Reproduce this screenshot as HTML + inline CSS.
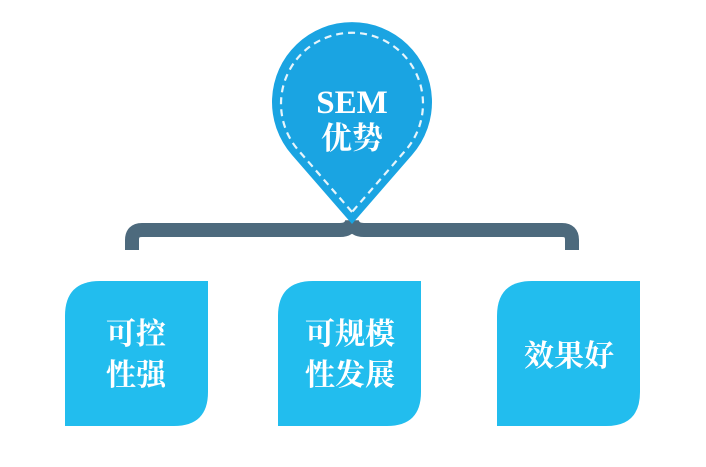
<!DOCTYPE html>
<html><head><meta charset="utf-8"><style>
html,body{margin:0;padding:0;background:#fff;}
svg{display:block;}
text{font-family:"Liberation Serif","Noto Serif CJK SC",serif;font-weight:bold;fill:#fff;}
</style></head><body>
<svg width="706" height="467" viewBox="0 0 706 467" xmlns="http://www.w3.org/2000/svg">
<path d="M132 250 L132 240 Q132 230 142 230 L340 230 Q350 230 352 222 Q354 230 364 230 L562 230 Q572 230 572 240 L572 250" fill="none" stroke="#4d6a7d" stroke-width="14"/>
<path d="M352 224 L292 155 A80 80 0 1 1 412 155 Z" fill="#1aa4e2"/>
<path d="M352 212 L299 151 A71 71 0 1 1 405 151 Z" fill="none" stroke="#e6f5fc" stroke-width="2.2" stroke-dasharray="7 5"/>
<text x="352" y="113" font-size="33" text-anchor="middle">SEM</text>
<text x="352" y="149" font-size="31" text-anchor="middle">优势</text>
<path d="M100 281 L208 281 L208 392 Q208 426 174 426 L65 426 L65 316 Q65 281 100 281 Z" fill="#22bdee"/>
<path d="M313 281 L421 281 L421 392 Q421 426 387 426 L278 426 L278 316 Q278 281 313 281 Z" fill="#22bdee"/>
<path d="M532 281 L640 281 L640 392 Q640 426 606 426 L497 426 L497 316 Q497 281 532 281 Z" fill="#22bdee"/>
<text x="136" y="344" font-size="30" text-anchor="middle">可控</text>
<text x="136" y="385" font-size="30" text-anchor="middle">性强</text>
<text x="350" y="344" font-size="30" text-anchor="middle">可规模</text>
<text x="350" y="385" font-size="30" text-anchor="middle">性发展</text>
<text x="569" y="366" font-size="30" text-anchor="middle">效果好</text>
</svg>
</body></html>
